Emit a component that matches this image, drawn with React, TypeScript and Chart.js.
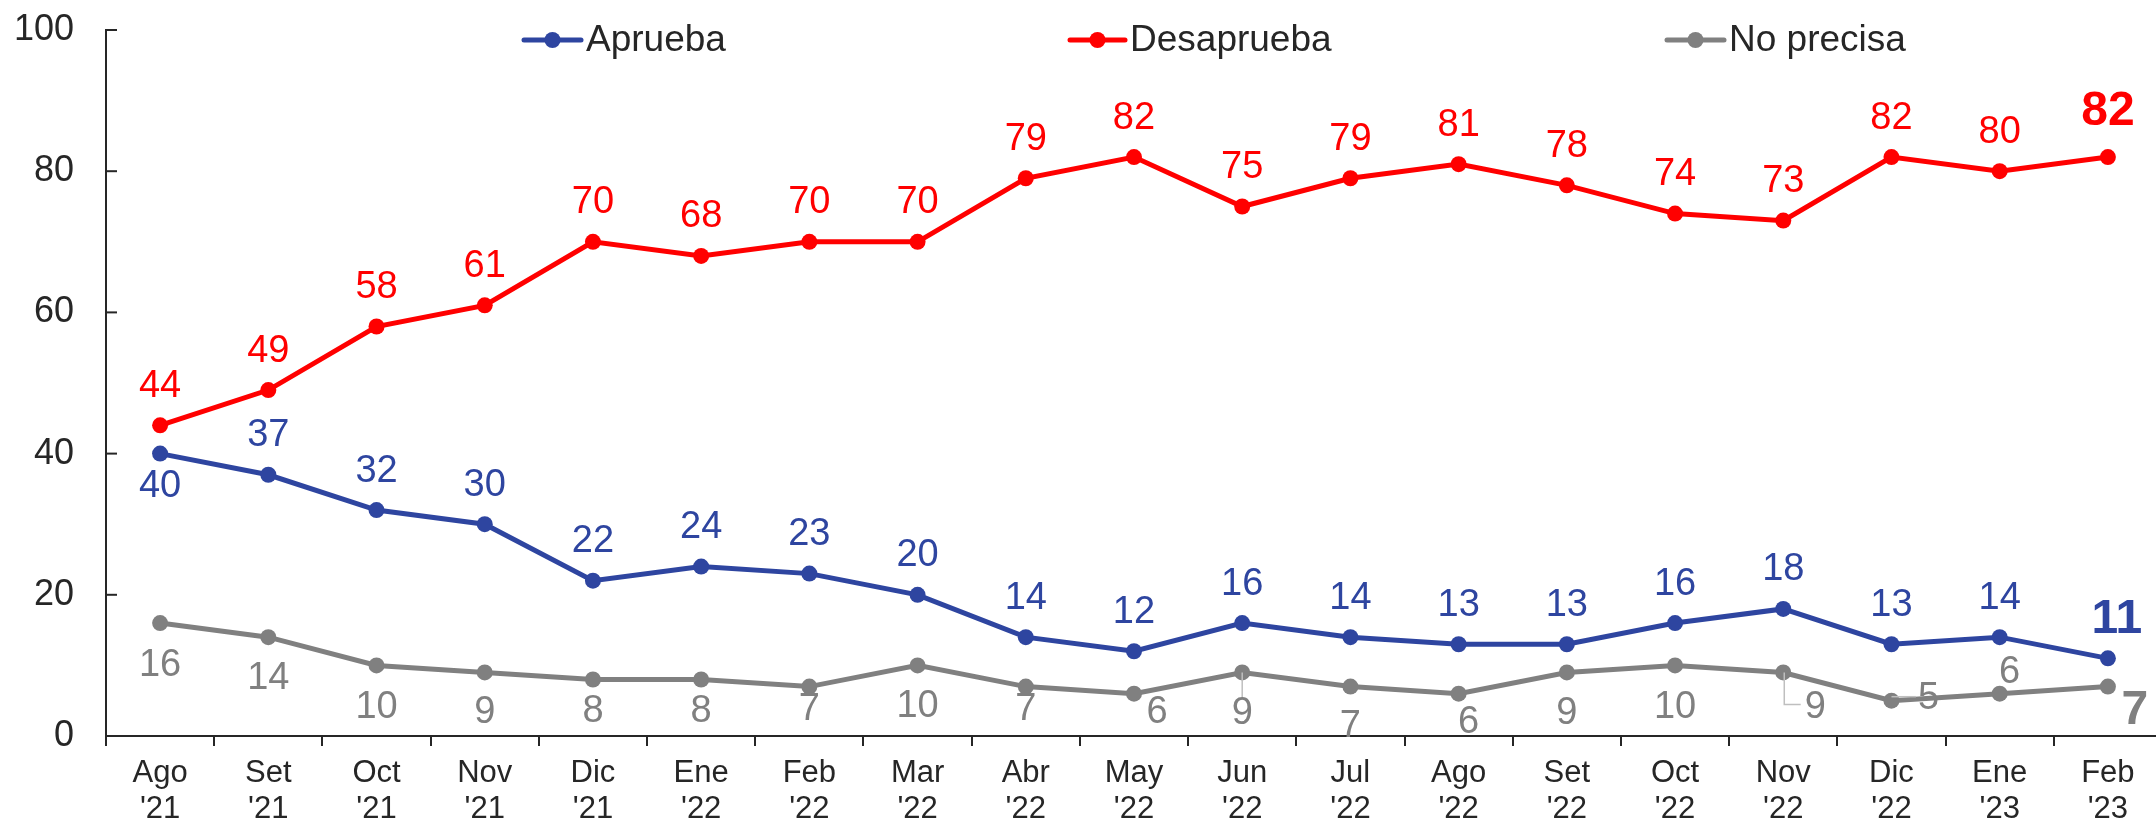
import React, { useEffect, useRef } from 'react';
import { Chart, registerables } from 'chart.js';

Chart.register(...registerables);

const MONTHS = ['Ago', 'Set', 'Oct', 'Nov', 'Dic', 'Ene', 'Feb', 'Mar', 'Abr', 'May', 'Jun', 'Jul', 'Ago', 'Set', 'Oct', 'Nov', 'Dic', 'Ene', 'Feb'];
const YEARS = ["'21", "'21", "'21", "'21", "'21", "'22", "'22", "'22", "'22", "'22", "'22", "'22", "'22", "'22", "'22", "'22", "'22", "'23", "'23"];
const APRUEBA = [40, 37, 32, 30, 22, 24, 23, 20, 14, 12, 16, 14, 13, 13, 16, 18, 13, 14, 11];
const DESAPRUEBA = [44, 49, 58, 61, 70, 68, 70, 70, 79, 82, 75, 79, 81, 78, 74, 73, 82, 80, 82];
const NO_PRECISA = [16, 14, 10, 9, 8, 8, 7, 10, 7, 6, 9, 7, 6, 9, 10, 9, 5, 6, 7];
const SERIES_NAMES = ['Aprueba', 'Desaprueba', 'No precisa'];
const Y_MIN = 0;
const Y_MAX = 100;
const Y_STEP = 20;

const FONT = '"Liberation Sans", Arial, Helvetica, sans-serif';
const TEXT_COLOR = '#262626';
const COLORS = ['#2E45A0', '#FF0000', '#808080'];
const LEADER_COLOR = '#BFBFBF';

// label placement (styling): [dx, dy] offsets of the label centre from the point
const OFF_APRUEBA: number[][] = APRUEBA.map((_, i) => (i === 0 ? [0, 33] : i === APRUEBA.length - 1 ? [9, -39] : [0, -39]));
const OFF_DESAPRUEBA: number[][] = DESAPRUEBA.map((_, i) => (i === DESAPRUEBA.length - 1 ? [0, -45] : [0, -39]));
const OFF_NO_PRECISA: number[][] = [
  [0, 42], [0, 41], [0, 42], [0, 40], [0, 32], [0, 32], [0, 23], [0, 41], [0, 23], [23, 19],
  [0, 41], [0, 40], [10, 29], [0, 41], [0, 42], [32, 35], [37, -2], [10, -21], [27, 24],
];
const LABEL_OFFSETS = [OFF_APRUEBA, OFF_DESAPRUEBA, OFF_NO_PRECISA];
const LEADERS = [[], [], [10, 15, 16]];

const LEGEND_POS = [
  { x0: 524, x1: 581, tx: 586 },
  { x0: 1070, x1: 1125, tx: 1130 },
  { x0: 1667, x1: 1724, tx: 1729 },
];

const pointLabels = {
  id: 'pointLabels',
  afterDatasetsDraw(chart: any) {
    const ctx = chart.ctx;
    chart.data.datasets.forEach((ds: any, di: number) => {
      const meta = chart.getDatasetMeta(di);
      const offs = LABEL_OFFSETS[di];
      meta.data.forEach((pt: any, i: number) => {
        const last = i === meta.data.length - 1;
        const [dx, dy] = offs[i];
        const x = pt.x + dx;
        const y = pt.y + dy;
        ctx.save();
        const txt = String(ds.data[i]);
        ctx.font = `${last ? 'bold 48px' : '38px'} ${FONT}`;
        if (LEADERS[di].includes(i)) {
          const w = ctx.measureText(txt).width;
          ctx.strokeStyle = LEADER_COLOR;
          ctx.lineWidth = 1.5;
          ctx.beginPath();
          if (dx === 0) {
            ctx.moveTo(pt.x, pt.y);
            ctx.lineTo(pt.x, y - 15);
          } else if (Math.abs(dy) < 6) {
            ctx.moveTo(pt.x, y - 2);
            ctx.lineTo(x - w / 2 - 2, y - 2);
          } else {
            ctx.moveTo(pt.x + 1, pt.y);
            ctx.lineTo(pt.x + 1, y - 3);
            ctx.lineTo(x - w / 2 - 4, y - 3);
          }
          ctx.stroke();
        }
        ctx.fillStyle = ds.borderColor;
        ctx.textAlign = 'center';
        ctx.textBaseline = 'middle';
        ctx.fillText(txt, x, y);
        ctx.restore();
      });
    });
  },
};

const extras = {
  id: 'extras',
  afterDraw(chart: any) {
    const ctx = chart.ctx;
    const ys = chart.scales.y;
    const left = chart.chartArea.left;
    ctx.save();
    ctx.strokeStyle = TEXT_COLOR;
    ctx.lineWidth = 2;
    ys.ticks.forEach((t: any) => {
      const y = ys.getPixelForValue(t.value);
      ctx.beginPath();
      ctx.moveTo(left, y);
      ctx.lineTo(left + 11, y);
      ctx.stroke();
    });
    // legend
    chart.data.datasets.forEach((ds: any, di: number) => {
      const p = LEGEND_POS[di];
      const cy = 40;
      ctx.strokeStyle = ds.borderColor;
      ctx.lineWidth = 5;
      ctx.lineCap = 'round';
      ctx.beginPath();
      ctx.moveTo(p.x0, cy);
      ctx.lineTo(p.x1, cy);
      ctx.stroke();
      ctx.fillStyle = ds.borderColor;
      ctx.beginPath();
      ctx.arc((p.x0 + p.x1) / 2, cy, 8, 0, Math.PI * 2);
      ctx.fill();
      ctx.fillStyle = TEXT_COLOR;
      ctx.font = `37px ${FONT}`;
      ctx.textAlign = 'left';
      ctx.textBaseline = 'middle';
      ctx.fillText(ds.label, p.tx, cy + 1);
    });
    ctx.restore();
  },
};

export default function App() {
  const ref = useRef<HTMLCanvasElement | null>(null);
  useEffect(() => {
    if (!ref.current) return;
    const labels = MONTHS.map((m, i) => [m, YEARS[i]]);
    const series = [APRUEBA, DESAPRUEBA, NO_PRECISA];
    const chart = new Chart(ref.current, {
      type: 'line',
      data: {
        labels,
        datasets: series.map((d, i) => ({
          label: SERIES_NAMES[i],
          data: d,
          borderColor: COLORS[i],
          backgroundColor: COLORS[i],
          borderWidth: 5,
          pointRadius: 8,
          pointHoverRadius: 8,
          pointBorderWidth: 0,
          tension: 0,
          fill: false,
        })),
      },
      options: {
        animation: false,
        responsive: false,
        maintainAspectRatio: false,
        layout: { padding: { top: 30, right: 6, left: 0, bottom: 0 } },
        plugins: { legend: { display: false }, tooltip: { enabled: false } },
        scales: {
          x: {
            offset: true,
            grid: { offset: true, drawOnChartArea: false, drawTicks: true, tickLength: 10, color: TEXT_COLOR, lineWidth: 2 },
            border: { color: TEXT_COLOR, width: 2 },
            ticks: { color: TEXT_COLOR, font: { family: FONT, size: 31, lineHeight: 1.17 }, padding: 9, maxRotation: 0, autoSkip: false },
            afterFit: (s: any) => { s.height = 89; s.paddingLeft = 0; s.paddingRight = 0; },
          },
          y: {
            min: Y_MIN,
            max: Y_MAX,
            grid: { drawOnChartArea: false, drawTicks: false },
            border: { color: TEXT_COLOR, width: 2 },
            ticks: { stepSize: Y_STEP, color: TEXT_COLOR, font: { family: FONT, size: 36 }, padding: 32 },
            afterFit: (s: any) => { s.width = 106; s.paddingTop = 0; s.paddingBottom = 0; },
          },
        },
      },
      plugins: [pointLabels, extras],
    });
    return () => chart.destroy();
  }, []);
  return (
    <div style={{ position: 'absolute', left: 0, top: 0, width: 2156, height: 825, overflow: 'hidden', background: '#fff' }}>
      <canvas ref={ref} width={2170} height={825} style={{ width: 2170, height: 825, display: 'block' }} />
    </div>
  );
}
